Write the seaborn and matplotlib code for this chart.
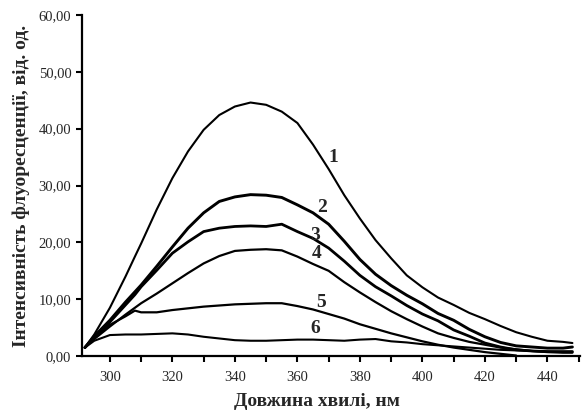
import numpy as np
import pandas as pd
import matplotlib
matplotlib.use('Agg')
import matplotlib.pyplot as plt
import seaborn as sns
from matplotlib.ticker import MultipleLocator, FuncFormatter

# wavelength grid (nm) and fluorescence intensity of the six spectra
wavelength = [292, 295, 300, 305, 308, 310, 315, 320, 325, 330, 335, 340,
              345, 350, 355, 360, 365, 370, 375, 380, 385, 390, 395, 400,
              405, 410, 415, 420, 425, 430, 435, 440, 445, 448]
curve_1 = [1.5, 3.8, 8.5, 14.0, 17.5, 19.8, 25.8, 31.3, 36.0, 39.8, 42.4, 43.9,
           44.6, 44.2, 43.0, 41.0, 37.2, 32.9, 28.3, 24.2, 20.4, 17.2, 14.2, 12.1,
           10.3, 9.0, 7.6, 6.5, 5.3, 4.2, 3.4, 2.7, 2.5, 2.3]
curve_2 = [1.5, 3.5, 6.3, 9.5, 11.3, 12.5, 15.8, 19.2, 22.5, 25.2, 27.2, 28.0,
           28.4, 28.3, 27.9, 26.6, 25.2, 23.2, 20.2, 17.0, 14.4, 12.4, 10.7, 9.2,
           7.5, 6.3, 4.7, 3.4, 2.4, 1.8, 1.6, 1.4, 1.4, 1.6]
curve_3 = [1.5, 3.3, 6.0, 9.0, 10.8, 12.2, 15.1, 18.1, 20.1, 21.9, 22.5, 22.8,
           22.9, 22.8, 23.2, 21.9, 20.7, 19.0, 16.7, 14.2, 12.2, 10.6, 8.9, 7.4,
           6.2, 4.6, 3.5, 2.3, 1.6, 1.1, 0.9, 0.8, 0.8, 0.8]
curve_4 = [1.5, 3.0, 5.2, 7.3, 8.5, 9.3, 11.0, 12.8, 14.6, 16.3, 17.6, 18.5,
           18.7, 18.8, 18.6, 17.5, 16.2, 15.0, 13.0, 11.2, 9.5, 7.9, 6.5, 5.2,
           4.0, 3.2, 2.5, 2.0, 1.5, 1.2, 0.9, 0.7, 0.6, 0.6]
curve_5 = [1.5, 3.2, 5.5, 7.0, 8.0, 7.7, 7.7, 8.1, 8.4, 8.7, 8.9, 9.1,
           9.2, 9.3, 9.3, 8.8, 8.2, 7.4, 6.6, 5.6, 4.8, 4.0, 3.3, 2.6,
           2.0, 1.5, 1.1, 0.7, 0.4, 0.1, np.nan, np.nan, np.nan, np.nan]
curve_6 = [1.5, 2.7, 3.7, 3.8, 3.8, 3.8, 3.9, 4.0, 3.8, 3.4, 3.1, 2.8,
           2.7, 2.7, 2.8, 2.9, 2.9, 2.8, 2.7, 2.9, 3.0, 2.6, 2.4, 2.1,
           1.9, 1.7, 1.5, 1.3, 1.1, 1.0, 0.9, 0.8, 0.7, 0.7]
curve_names = ['1', '2', '3', '4', '5', '6']
# where the curve numbers are written (nm, intensity)
label_x = [371.5, 368.0, 365.6, 366.0, 367.5, 365.6]
label_y = [34.9, 26.2, 21.2, 18.0, 9.5, 4.8]

sns.set_style('ticks')
plt.rcParams['font.family'] = ['Liberation Serif', 'DejaVu Serif']

fig = plt.figure(figsize=(5.84, 4.16), dpi=100)
ax = fig.add_axes([0.140, 0.144, 0.853, 0.820])

widths = [1.5, 2.1, 2.0, 1.6, 1.6, 1.5]
for name, vals, lw in zip(curve_names,
                          [curve_1, curve_2, curve_3, curve_4, curve_5, curve_6],
                          widths):
    df = pd.DataFrame({'x': wavelength, 'y': vals}).dropna()
    sns.lineplot(data=df, x='x', y='y', ax=ax, color='black', linewidth=lw,
                 estimator=None, sort=False)

for name, lx, ly in zip(curve_names, label_x, label_y):
    ax.text(lx, ly, name, fontsize=14, fontweight='bold', ha='center',
            va='center')

ax.set_xlim(291, 450.4)
ax.set_ylim(0, 60)
ax.xaxis.set_major_locator(MultipleLocator(20))
ax.xaxis.set_minor_locator(MultipleLocator(10))
ax.yaxis.set_major_locator(MultipleLocator(10))
ax.yaxis.set_major_formatter(FuncFormatter(lambda v, p: f'{v:.2f}'.replace('.', ',')))
ax.tick_params(axis='both', which='both', direction='out', length=4, width=1.5,
               labelsize=10.5, color='black')
ax.tick_params(axis='x', pad=7)

for s in ['top', 'right']:
    ax.spines[s].set_visible(False)
for s in ['left', 'bottom']:
    ax.spines[s].set_linewidth(1.6)
    ax.spines[s].set_color('black')

ax.set_xlabel('Довжина хвилі, нм', fontsize=14, fontweight='bold')
ax.xaxis.set_label_coords(0.473, -0.108)
ax.set_ylabel('Інтенсивність флуоресценції, від. од.', fontsize=14,
              fontweight='bold', labelpad=6)

fig.savefig('out.png', dpi=100)
